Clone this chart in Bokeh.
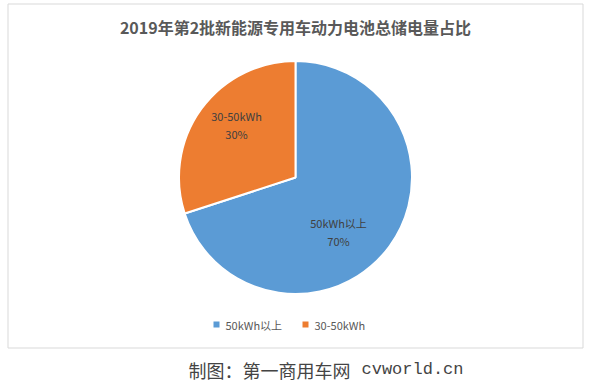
import math
from bokeh.plotting import figure
from bokeh.models import ColumnDataSource
from bokeh.core.properties import value
from bokeh.embed import file_html
from bokeh.resources import INLINE

title = "2019年第2批新能源专用车动力电池总储电量占比"
categories = ["50kWh以上", "30-50kWh"]
shares = [70, 30]
colors = ["#5B9BD5", "#ED7D31"]
caption_cn = "制图：第一商用车网"
caption_en = "cvworld.cn"

W, H = 589, 389
p = figure(width=W, height=H, x_range=(0, W), y_range=(0, H),
           output_backend="svg", toolbar_location=None, min_border=0,
           outline_line_color=None)
p.axis.visible = False
p.grid.visible = False
p.background_fill_color = "white"
p.border_fill_color = "white"


def Y(y):
    return H - y


# chart frame
p.quad(left=[7.5], right=[582.5], top=[Y(3.5)], bottom=[Y(347.5)],
       fill_color="white", line_color="#D9D9D9", line_width=1)

# pie: clockwise from 12 o'clock
cx, cy, r = 295, 177, 116.5
total = sum(shares)
starts, ends = [], []
acc = 0
for s in shares:
    a0 = math.pi / 2 - 2 * math.pi * acc / total
    acc += s
    a1 = math.pi / 2 - 2 * math.pi * acc / total
    starts.append(a0)
    ends.append(a1)
src = ColumnDataSource(dict(start=starts, end=ends, color=colors, cat=categories))
p.wedge(x=cx, y=Y(cy), radius=r, start_angle="start", end_angle="end",
        direction="clock", fill_color="color", line_color="white",
        line_width=2, source=src)

# data labels
lbl_x = [338, 236]
lbl_y = [222, 115]
p.text(x=lbl_x, y=[Y(y) for y in lbl_y], text=categories, text_align="center",
       text_baseline="middle", text_font=value("Noto Sans CJK SC"),
       text_font_size="11px", text_color="#404040")
p.text(x=lbl_x, y=[Y(y + 18) for y in lbl_y], text=[f"{s}%" for s in shares],
       text_align="center", text_baseline="middle",
       text_font=value("Noto Sans CJK SC"), text_font_size="11px",
       text_color="#404040")

# title
p.text(x=[295], y=[Y(26)], text=[title], text_align="center",
       text_baseline="middle", text_font=value("Noto Sans CJK SC"),
       text_font_size="16px", text_font_style="bold", text_color="#595959")

# legend
leg_x = [216, 305]
p.rect(x=leg_x, y=[Y(324), Y(324)], width=6, height=6, fill_color=colors,
       line_color=None)
p.text(x=[x + 9 for x in leg_x], y=[Y(324), Y(324)], text=categories,
       text_align="left", text_baseline="middle",
       text_font=value("Noto Sans CJK SC"), text_font_size="11px",
       text_color="#595959")

# caption
p.text(x=[188], y=[Y(369)], text=[caption_cn], text_align="left",
       text_baseline="middle", text_font=value("Noto Sans CJK SC"),
       text_font_size="18px", text_color="#444444")
p.text(x=[361], y=[Y(369)], text=[caption_en], text_align="left",
       text_baseline="middle", text_font=value("Liberation Mono"),
       text_font_size="17px", text_color="#444444")

open("out.html", "w").write(file_html(p, INLINE))
